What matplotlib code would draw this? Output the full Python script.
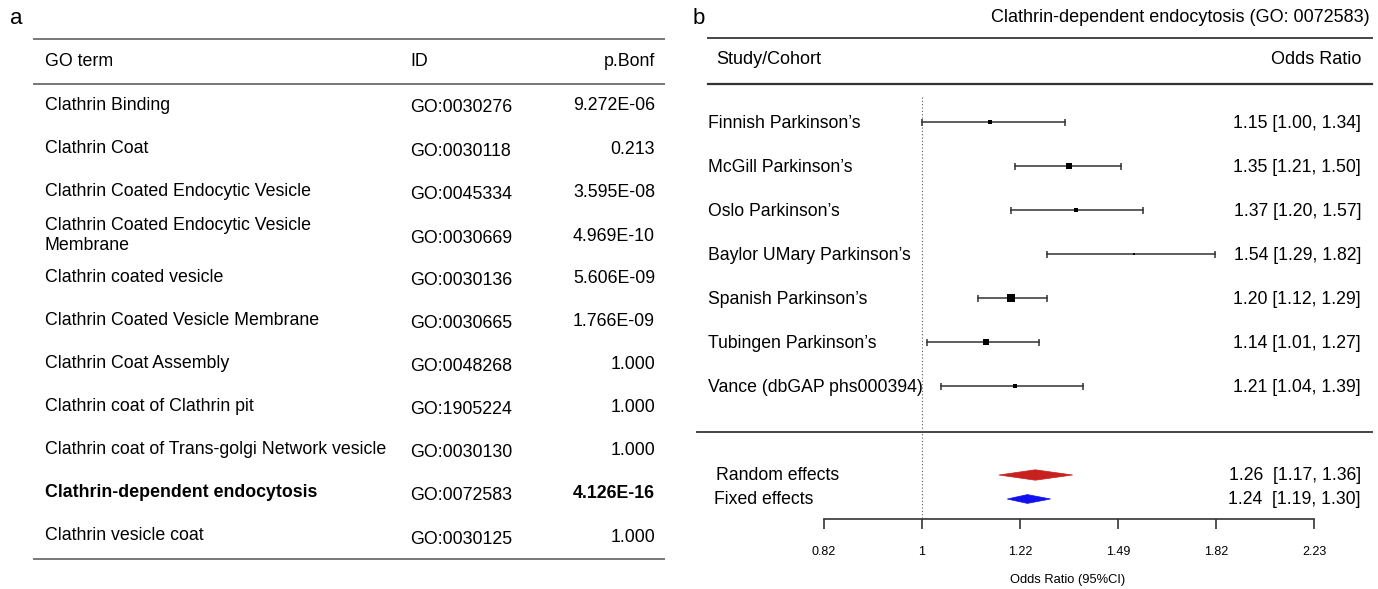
#!/usr/bin/env python3
"""GO term table (a) and forest plot for clathrin-dependent endocytosis (b)."""

import numpy as np
import matplotlib

matplotlib.use("Agg")
import matplotlib.pyplot as plt
from matplotlib.patches import Polygon

plt.rcParams["font.family"] = ["Liberation Sans", "DejaVu Sans"]

# ---- panel a: GO term table ----
go_terms = [
    "Clathrin Binding",
    "Clathrin Coat",
    "Clathrin Coated Endocytic Vesicle",
    "Clathrin Coated Endocytic Vesicle\nMembrane",
    "Clathrin coated vesicle",
    "Clathrin Coated Vesicle Membrane",
    "Clathrin Coat Assembly",
    "Clathrin coat of Clathrin pit",
    "Clathrin coat of Trans-golgi Network vesicle",
    "Clathrin-dependent endocytosis",
    "Clathrin vesicle coat",
]
go_ids = [
    "GO:0030276", "GO:0030118", "GO:0045334", "GO:0030669", "GO:0030136",
    "GO:0030665", "GO:0048268", "GO:1905224", "GO:0030130", "GO:0072583",
    "GO:0030125",
]
p_bonf = [9.272e-06, 0.213, 3.595e-08, 4.969e-10, 5.606e-09, 1.766e-09,
          1.0, 1.0, 1.0, 4.126e-16, 1.0]
highlight = "Clathrin-dependent endocytosis"

# ---- panel b: forest plot ----
studies = [
    "Finnish Parkinson\u2019s",
    "McGill Parkinson\u2019s",
    "Oslo Parkinson\u2019s",
    "Baylor UMary Parkinson\u2019s",
    "Spanish Parkinson\u2019s",
    "Tubingen Parkinson\u2019s",
    "Vance (dbGAP phs000394)",
]
odds_ratio = [1.15, 1.35, 1.37, 1.54, 1.20, 1.14, 1.21]
ci_low = [1.00, 1.21, 1.20, 1.29, 1.12, 1.01, 1.04]
ci_high = [1.34, 1.50, 1.57, 1.82, 1.29, 1.27, 1.39]
weights = [8, 18, 10, 4, 32, 18, 8]

pooled_names = ["Random effects", "Fixed effects"]
pooled_or = [1.26, 1.24]
pooled_low = [1.17, 1.19]
pooled_high = [1.36, 1.30]
pooled_colors = ["#c8201e", "#1010f0"]

tick_labels = ["0.82", "1", "1.22", "1.49", "1.82", "2.23"]
tick_log = [-0.2, 0.0, 0.2, 0.4, 0.6, 0.8]

W, H = 1378, 589
fig = plt.figure(figsize=(W / 100, H / 100), dpi=100)
fig.patch.set_facecolor("white")

# ---------------- panel a ----------------
axa = fig.add_axes([0, 0, 690 / W, 1])
axa.set_xlim(0, 690)
axa.set_ylim(H, 0)
axa.axis("off")

fs = 12.8
axa.text(10, 18, "a", fontsize=16, va="center", ha="left")
line_kw = dict(color="#777777", lw=1.4)
axa.plot([34, 664], [39, 39], **line_kw)
axa.plot([34, 664], [84, 84], **line_kw)
axa.plot([34, 664], [559, 559], **line_kw)
axa.text(45, 61, "GO term", fontsize=fs, va="center")
axa.text(410, 61, "ID", fontsize=fs, va="center")
axa.text(655, 61, "p.Bonf", fontsize=fs, va="center", ha="right")

row_y = 105 + 43.1 * np.arange(len(go_terms))
for y, term, gid, p in zip(row_y, go_terms, go_ids, p_bonf):
    weight = "bold" if term == highlight else "normal"
    p_txt = f"{p:.3E}" if p < 0.01 else f"{p:.3f}"
    if "\n" in term:
        y = y + 1
    axa.text(45, y, term, fontsize=fs, va="center", weight=weight, linespacing=1.22)
    axa.text(410, y + 3, gid, fontsize=fs, va="center")
    axa.text(655, y + 1, p_txt, fontsize=fs, va="center", ha="right", weight=weight)

# ---------------- panel b ----------------
x0_px, px_per_unit = 922, 490


def px(x):
    return (x - x0_px) / px_per_unit


axb = fig.add_axes([690 / W, 0, 688 / W, 1])
axb.set_xlim(px(690), px(1378))
axb.set_ylim(H, 0)
axb.axis("off")

fb = 12.7
axb.text(px(693), 18, "b", fontsize=16, va="center", ha="left")
axb.text(px(1370), 18, "Clathrin-dependent endocytosis (GO: 0072583)",
         fontsize=13, va="center", ha="right")
axb.plot([px(708), px(1372)], [38, 38], color="#444444", lw=1.4)
axb.plot([px(708), px(1372)], [84, 84], color="#333333", lw=1.6)
axb.plot([px(697), px(1372)], [432, 432], color="#444444", lw=1.4)
axb.text(px(716), 60, "Study/Cohort", fontsize=13, va="center")
axb.text(px(1361), 60, "Odds Ratio", fontsize=13, va="center", ha="right")

axb.vlines(0, 97, 519, colors="#555555", linestyles=(0, (1, 2)), lw=0.8)

study_y = 122 + 44 * np.arange(len(studies))
log_or = np.log(odds_ratio)
log_lo = np.log(ci_low)
log_hi = np.log(ci_high)
box_px = 8 * np.sqrt(np.array(weights) / max(weights))
for y, name, m, lo, hi, b, o, l, h in zip(study_y, studies, log_or, log_lo, log_hi,
                                           box_px, odds_ratio, ci_low, ci_high):
    axb.plot([lo, hi], [y, y], color="#333333", lw=1.1)
    axb.vlines([lo, hi], y - 3.5, y + 3.5, colors="#333333", lw=1.1)
    axb.plot(m, y, marker="s", color="black", markersize=b * 0.72, mew=0)
    axb.text(px(708), y + 1, name, fontsize=fb, va="center")
    axb.text(px(1361), y + 1.5, f"{o:.2f} [{l:.2f}, {h:.2f}]", fontsize=fb,
             va="center", ha="right")

pooled_y = [475, 499]
pooled_h = [5.2, 4.4]
pooled_x = [716, 714]
for y, name, o, l, h, c, hh, xl in zip(pooled_y, pooled_names, pooled_or, pooled_low,
                                       pooled_high, pooled_colors, pooled_h, pooled_x):
    m, lo, hi = np.log(o), np.log(l), np.log(h)
    axb.add_patch(Polygon([[lo, y], [m, y - hh], [hi, y], [m, y + hh]],
                          closed=True, facecolor=c, edgecolor=c, lw=0.5))
    axb.text(px(xl), y, name, fontsize=fb, va="center")
    axb.text(px(1361), y, f"{o:.2f}  [{l:.2f}, {h:.2f}]", fontsize=fb,
             va="center", ha="right")

# x axis drawn by hand, forest-plot style
axb.plot([tick_log[0], tick_log[-1]], [519, 519], color="#333333", lw=1.2)
axb.vlines(tick_log, 519, 529, colors="#333333", lw=1.2)
for t, lab in zip(tick_log, tick_labels):
    axb.text(t, 552, lab, fontsize=9, ha="center", va="center")
axb.text(px(1068), 580, "Odds Ratio (95%CI)", fontsize=9.3, ha="center", va="center")

fig.savefig("out.png", dpi=100, facecolor="white")
